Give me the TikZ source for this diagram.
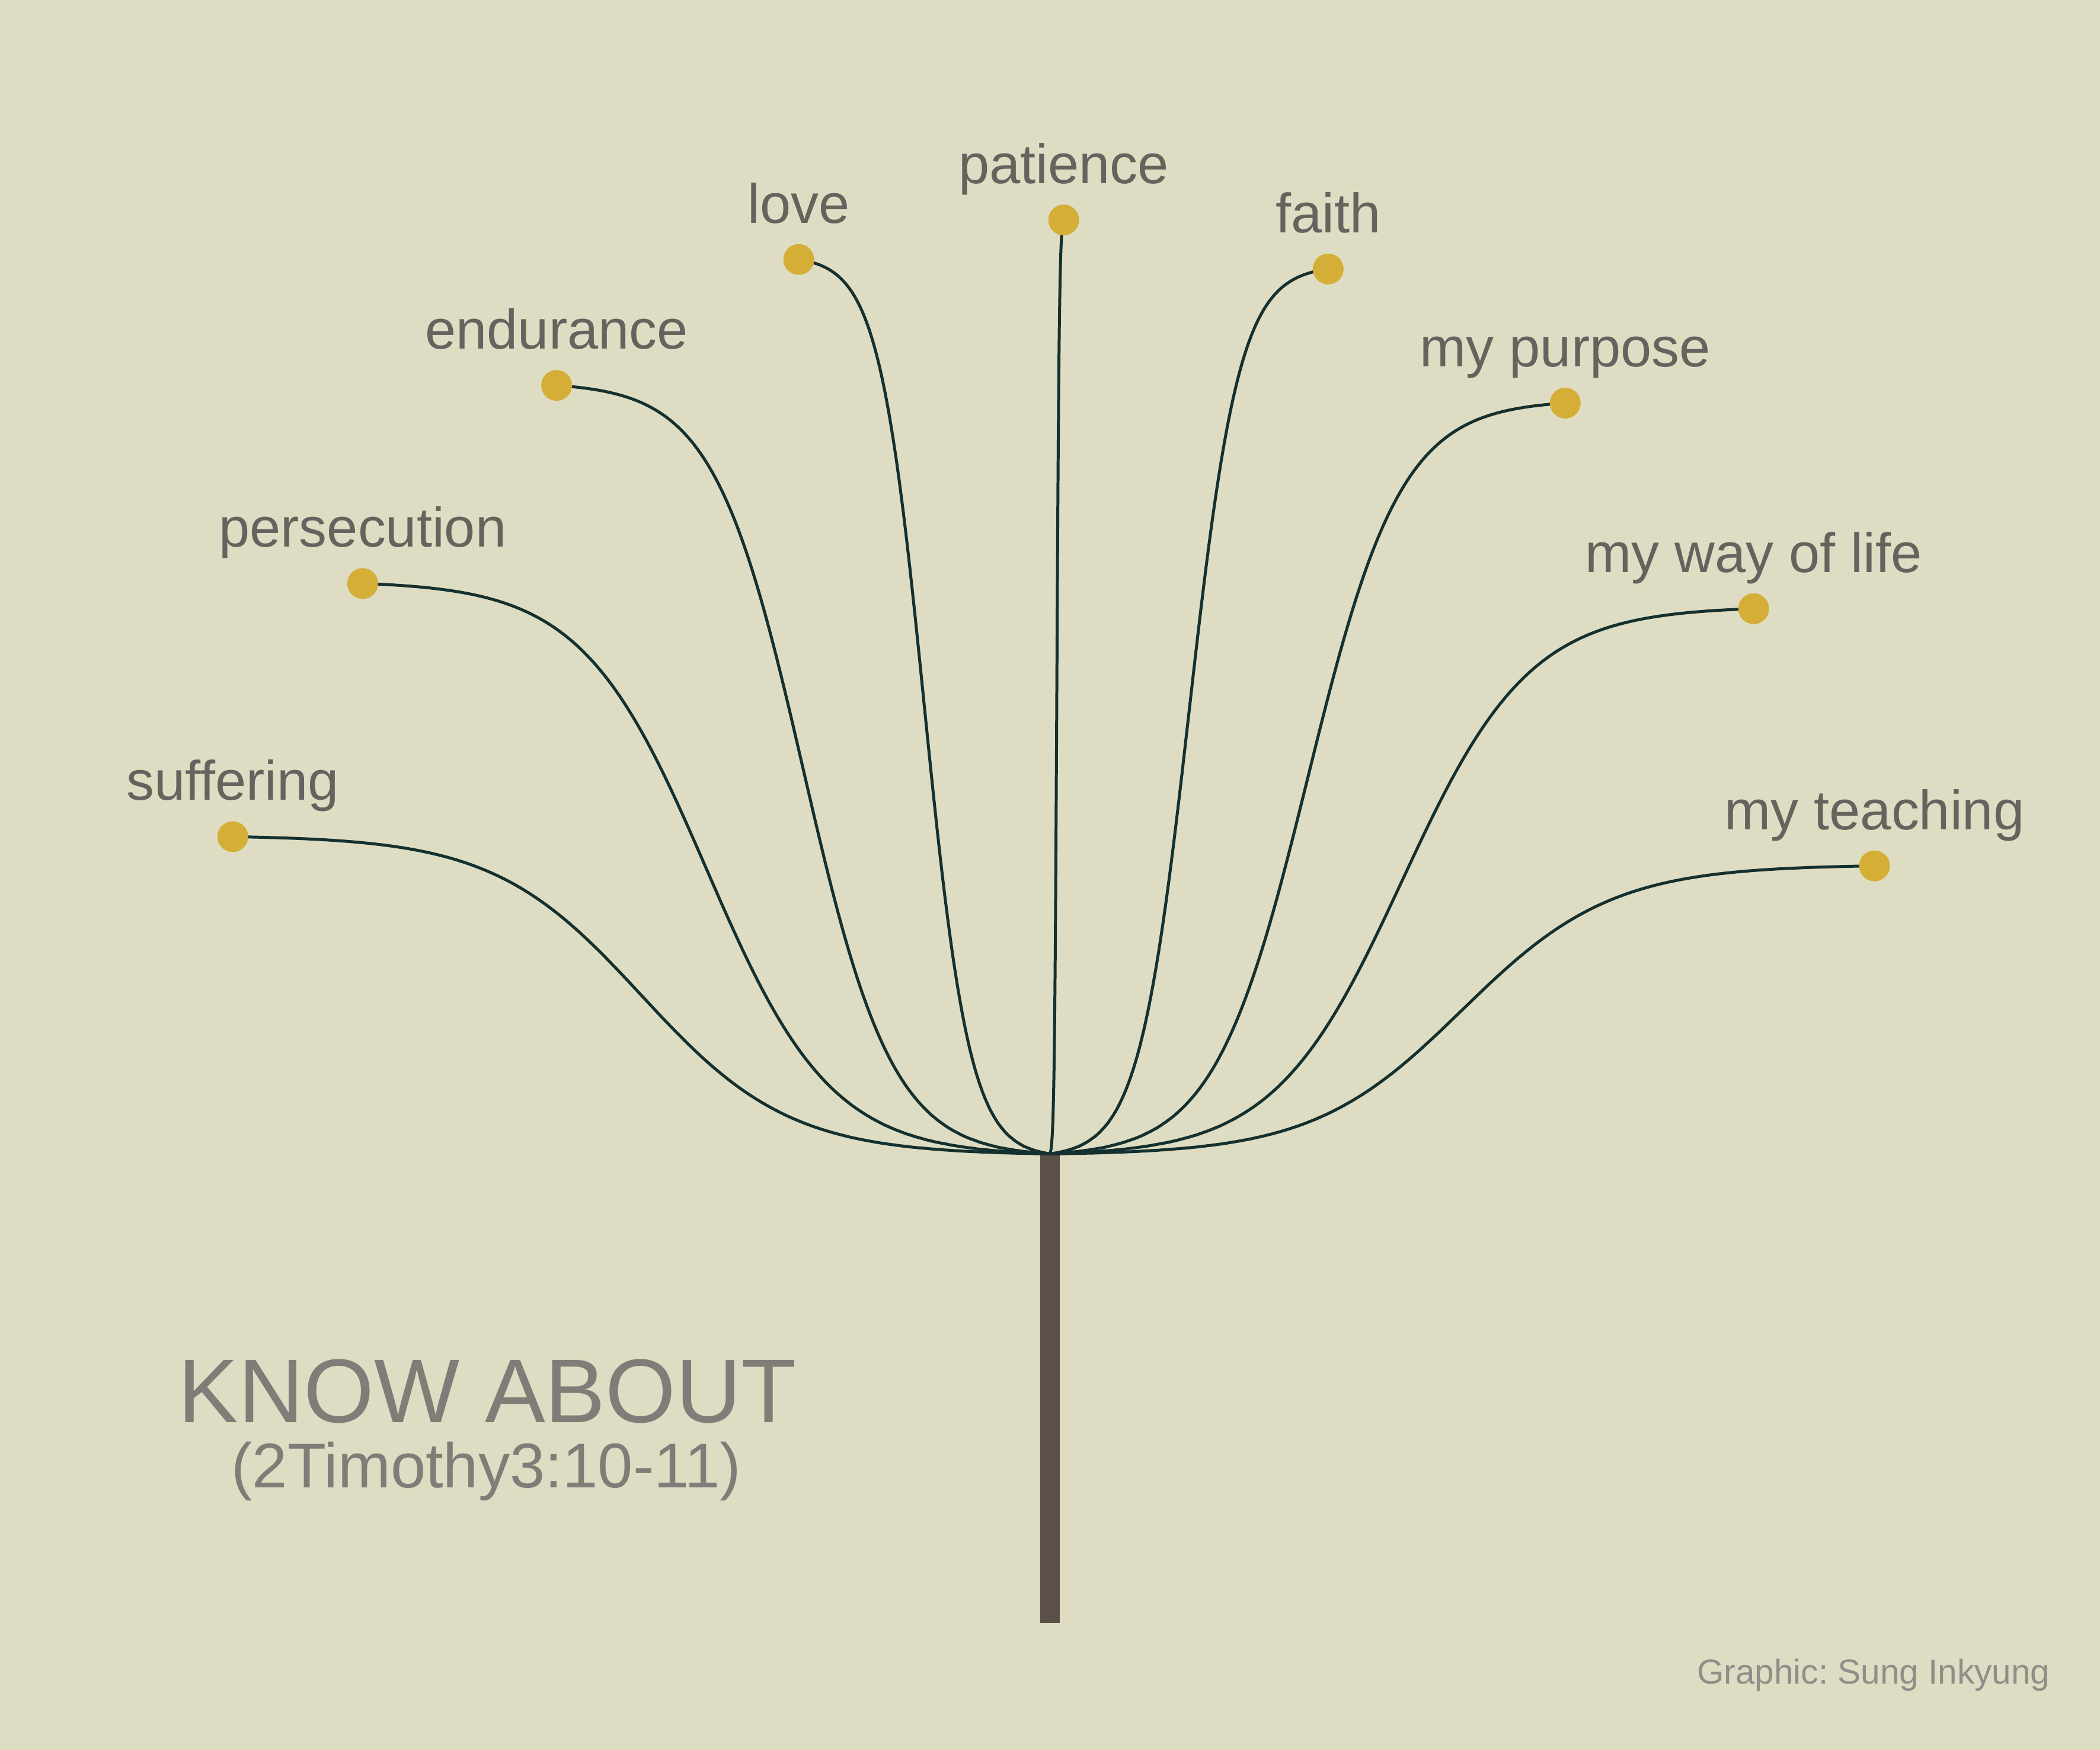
\documentclass[tikz,border=0pt]{standalone}
\usepackage{fontspec}
\setmainfont{Liberation Sans}
\usetikzlibrary{calc}
\frenchspacing
\definecolor{bgc}{HTML}{DEDDC3}
\definecolor{stalkc}{HTML}{14302F}
\definecolor{dotc}{HTML}{D4AE36}
\definecolor{labc}{HTML}{67625E}
\definecolor{titc}{HTML}{827C78}
\definecolor{credc}{HTML}{928D89}
\definecolor{stemc}{HTML}{5B4F49}
\pgfdeclarelayer{bg}
\pgfdeclarelayer{mid}
\pgfsetlayers{bg,mid,main}
\tikzset{
  stalk/.style={draw=stalkc, line width=1.2pt, line join=round, line cap=round},
  ydot/.style={circle, fill=dotc, inner sep=0pt, minimum size=0.44cm},
  lab/.style={text=labc, inner sep=0pt, anchor=base, font=\fontsize{22.6}{27}\selectfont},
  titletext/.style={text=titc, inner sep=0pt, anchor=base, font=\fontsize{36.8}{44}\selectfont},
  subtext/.style={text=titc, inner sep=0pt, anchor=base, font=\fontsize{25.7}{31}\selectfont},
  credtext/.style={text=credc, inner sep=0pt, anchor=base east, font=\fontsize{14.1}{17}\selectfont},
}
\newcommand{\sigdraw}[2]{%
  \draw[stalk] let \p1=(#1.center), \p2=(#2) in
    plot[domain=0:1, samples=180, variable=\t]
    ({(\x1)+\t*((\x2)-(\x1))},
     {(\y1)+((\y2)-(\y1))*((1/(1+exp(-5.5*(2*\t-1))))-0.00407)/0.99186});%
}
\begin{document}
\begin{tikzpicture}[x=0.01913265cm, y=-0.01913265cm]
  % background
  \begin{pgfonlayer}{bg}
    \fill[bgc] (0,0) rectangle (1568,1306.43);
  \end{pgfonlayer}
  \useasboundingbox (0,0) rectangle (1568,1306.43);

  % hub and stem
  \coordinate (hub) at (784,861.5);
  \begin{pgfonlayer}{bg}
    \fill[stemc] (776.7,861.5) rectangle (791.3,1211.6);
  \end{pgfonlayer}

  % dots
  \node[ydot] (d1) at (173.8,624.6) {};
  \node[ydot] (d2) at (270.8,435.6) {};
  \node[ydot] (d3) at (415.6,287.7) {};
  \node[ydot] (d4) at (596.4,193.7) {};
  \node[ydot] (d5) at (794.2,164.2) {};
  \node[ydot] (d6) at (991.7,200.8) {};
  \node[ydot] (d7) at (1168.7,300.9) {};
  \node[ydot] (d8) at (1309.4,454.4) {};
  \node[ydot] (d9) at (1399.6,646.4) {};

  % labels
  \node[lab] (l1) at ($(d1.center)+(0,-27.2)$) {suffering};
  \node[lab] (l2) at ($(d2.center)+(0,-27.2)$) {persecution};
  \node[lab] (l3) at ($(d3.center)+(0,-27.2)$) {endurance};
  \node[lab] (l4) at ($(d4.center)+(0,-27.2)$) {love};
  \node[lab] (l5) at ($(d5.center)+(0,-27.2)$) {patience};
  \node[lab] (l6) at ($(d6.center)+(0,-27.2)$) {faith};
  \node[lab] (l7) at ($(d7.center)+(0,-27.2)$) {my purpose};
  \node[lab] (l8) at ($(d8.center)+(0,-27.2)$) {my way of life};
  \node[lab] (l9) at ($(d9.center)+(0,-27.2)$) {my teaching};

  % stalks
  \begin{pgfonlayer}{mid}
    \foreach \d in {d1,d2,d3,d4,d5,d6,d7,d8,d9}{\sigdraw{\d}{hub}}
  \end{pgfonlayer}

  % title and credit
  \node[titletext] (title) at (364,1062) {KNOW ABOUT};
  \node[subtext] (verse) at (363,1110.8) {(2Timothy3:10-11)};
  \node[credtext] (credit) at (1531,1257) {Graphic: Sung Inkyung};
\end{tikzpicture}
\end{document}
